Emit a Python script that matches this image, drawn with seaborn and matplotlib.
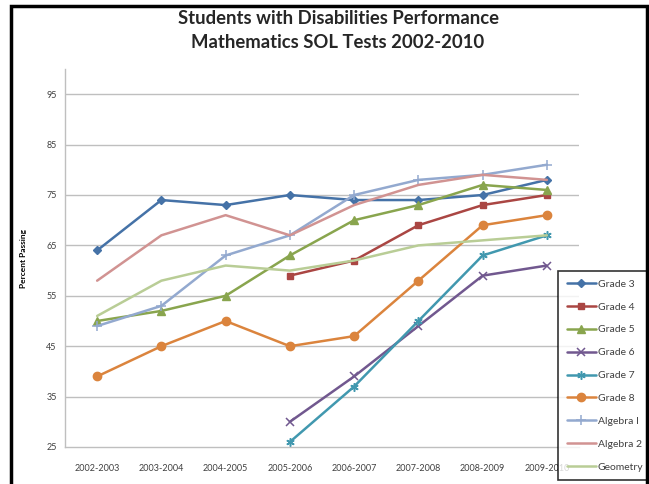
import matplotlib
matplotlib.use("Agg")
import matplotlib.pyplot as plt
import seaborn as sns
import numpy as np
import pandas as pd
from matplotlib.patches import Rectangle

years = ["2002-2003", "2003-2004", "2004-2005", "2005-2006", "2006-2007",
         "2007-2008", "2008-2009", "2009-2010"]
nan = np.nan
grade3 = [64, 74, 73, 75, 74, 74, 75, 78]
grade4 = [nan, nan, nan, 59, 62, 69, 73, 75]
grade5 = [50, 52, 55, 63, 70, 73, 77, 76]
grade6 = [nan, nan, nan, 30, 39, 49, 59, 61]
grade7 = [nan, nan, nan, 26, 37, 50, 63, 67]
grade8 = [39, 45, 50, 45, 47, 58, 69, 71]
algebra1 = [49, 53, 63, 67, 75, 78, 79, 81]
algebra2 = [58, 67, 71, 67, 73, 77, 79, 78]
geometry = [51, 58, 61, 60, 62, 65, 66, 67]

series_names = ["Grade 3", "Grade 4", "Grade 5", "Grade 6", "Grade 7",
                "Grade 8", "Algebra I", "Algebra 2", "Geometry"]
series_vals = [grade3, grade4, grade5, grade6, grade7, grade8,
               algebra1, algebra2, geometry]
colors = ["#4572A7", "#AA4643", "#89A54E", "#71588F", "#4198AF",
          "#DB843D", "#93A9CF", "#D19392", "#B9CD96"]
markers = ["D", "s", "^", "x", (6, 2, 0), "o", "+", None, None]
msizes = [4.2, 5, 5.5, 5.5, 6, 6, 7, 0, 0]
mews = [1, 1, 1, 1.1, 1.1, 1, 1.1, 0, 0]

sns.set_theme(style="white")
plt.rcParams["font.family"] = ["Lato", "DejaVu Sans"]

fig = plt.figure(figsize=(6.49, 4.84), dpi=100)
W, H = 649, 484
ax = fig.add_axes([65 / W, 1 - 447 / H, (579 - 65) / W, (447 - 69) / H])

for name, vals, c, m, ms, mew in zip(series_names, series_vals, colors, markers, msizes, mews):
    df = pd.DataFrame({"x": np.arange(len(years)), "y": vals}).dropna()
    kw = dict(marker=m, markersize=ms, markeredgecolor=c, markerfacecolor=c,
              markeredgewidth=mew) if m is not None else {}
    sns.lineplot(data=df, x="x", y="y", ax=ax, color=c, linewidth=1.8,
                 label=name, legend=False, **kw)

ax.set_xlim(-0.5, 7.5)
ax.set_ylim(25, 100)
ax.set_yticks(np.arange(25, 100, 10))
ax.set_xticks(np.arange(len(years)))
ax.set_xticklabels(years)
ax.tick_params(axis="both", labelsize=6.5, colors="#404040", length=0, pad=6)
ax.tick_params(axis="x", pad=12)
for y in np.arange(35, 100, 10):
    ax.axhline(y, color="#BFBFBF", linewidth=1.0, zorder=0)
for s in ["top", "right"]:
    ax.spines[s].set_visible(False)
for s in ["left", "bottom"]:
    ax.spines[s].set_color("#BFBFBF")
    ax.spines[s].set_linewidth(1.0)
ax.set_xlabel("")
ax.set_ylabel("Percent Passing", fontsize=6, fontweight="bold", color="black", labelpad=14)

fig.text(338 / W, 1 - 18 / H, "Students with Disabilities Performance",
         ha="center", va="center", fontsize=13.3, fontweight="bold")
fig.text(338 / W, 1 - 43 / H, "Mathematics SOL Tests 2002-2010",
         ha="center", va="center", fontsize=13.3, fontweight="bold")

# outer chart border
fig.patches.append(Rectangle((11 / W, -0.05), (647 - 11) / W, 1.05 - 6 / H,
                             transform=fig.transFigure, fill=False,
                             edgecolor="black", linewidth=2.5, zorder=10))

handles, labels = ax.get_legend_handles_labels()
leg = fig.legend(handles, labels, loc="upper left",
                 bbox_to_anchor=(553 / W, 1 - 266 / H), fontsize=7.5,
                 frameon=True, fancybox=False, edgecolor="black",
                 handlelength=2.8, labelspacing=1.3, borderpad=0.8,
                 handletextpad=0.2, labelcolor="#404040")
leg.get_frame().set_linewidth(1.2)
leg.get_frame().set_facecolor("white")

fig.savefig("out.png", dpi=100)
